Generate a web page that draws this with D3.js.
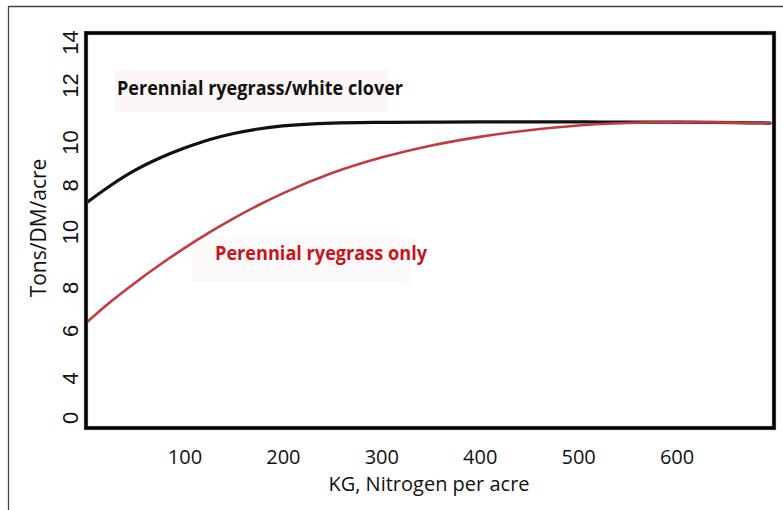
<!DOCTYPE html>
<html>
<head>
<meta charset="utf-8">
<script src="https://cdn.jsdelivr.net/npm/d3@7"></script>
<style>
    html, body { margin: 0; padding: 0; background: #fff; }
    svg { display: block; }
</style>
</head>
<body>
<div id="chart"></div>
<script>
// --- data
const nitrogen = [0, 25, 50, 75, 100, 125, 150, 175, 200, 250, 300, 350, 400, 450, 500, 550, 600, 695];
const cloverYield = [7.24, 7.98, 8.62, 9.13, 9.55, 9.9, 10.16, 10.35, 10.48, 10.6, 10.63, 10.64, 10.65, 10.65, 10.65, 10.64, 10.64, 10.6];
const ryegrassYield = [2.21, 3.1, 3.9, 4.65, 5.35, 6.0, 6.6, 7.15, 7.65, 8.5, 9.15, 9.65, 10.02, 10.3, 10.5, 10.6, 10.64, 10.6];

const xTicks = [100, 200, 300, 400, 500, 600];
// the printed y labels are not evenly spaced; each sits at its own value on the scale
const yTickLabels = ['14', '12', '10', '8', '10', '8', '6', '4', '0'];
const yTickAt = [14, 12.2, 9.8, 8, 6.05, 3.7, 1.9, -0.1, -1.75];

const seriesNames = ['Perennial ryegrass/white clover', 'Perennial ryegrass only'];

const width = 783;
const height = 510;
const margin = { top: 33, right: 8, bottom: 82, left: 86 };

const svg = d3.select('#chart')
    .append('svg')
    .attr('width', width)
    .attr('height', height);

// --- outer frame (only top/left edges fall inside the picture)
svg.append('path')
    .attr('d', `M8.5,${height} V6.5 H${width}`)
    .attr('fill', 'none')
    .attr('stroke', '#444')
    .attr('stroke-width', 1.3);

// --- scales
const x = d3.scaleLinear().domain([0, 700]).range([margin.left, width - margin.right]);
const y = d3.scaleLinear().domain([-2.2, 14.38]).range([height - margin.bottom, margin.top]);

// --- label backgrounds (faint pink boxes behind the captions)
svg.append('rect')
    .attr('x', 115).attr('y', 70).attr('width', 273).attr('height', 42)
    .attr('fill', '#fcf7f6');
svg.append('rect')
    .attr('x', 192).attr('y', 236).attr('width', 218).attr('height', 47)
    .attr('fill', '#fdf9f8');

// --- lines
const line = d3.line()
    .x(d => x(d[0]))
    .y(d => y(d[1]))
    .curve(d3.curveMonotoneX);

const curves = [
    { values: cloverYield, color: '#111', width: 3.2 },
    { values: ryegrassYield, color: '#c23b3e', width: 2.6 }
];

svg.append('g')
    .selectAll('path')
    .data(curves)
    .join('path')
    .attr('d', c => line(nitrogen.map((n, i) => [n, c.values[i]])))
    .attr('fill', 'none')
    .attr('stroke', c => c.color)
    .attr('stroke-width', c => c.width)
    .attr('stroke-linecap', 'round');

// --- plot box
svg.append('rect')
    .attr('x', margin.left)
    .attr('y', margin.top)
    .attr('width', width - margin.right - margin.left - 1)
    .attr('height', height - margin.bottom - margin.top)
    .attr('fill', 'none')
    .attr('stroke', '#666')
    .attr('stroke-width', 4.2);
svg.append('rect')
    .attr('x', margin.left)
    .attr('y', margin.top)
    .attr('width', width - margin.right - margin.left - 1)
    .attr('height', height - margin.bottom - margin.top)
    .attr('fill', 'none')
    .attr('stroke', '#000')
    .attr('stroke-width', 3);

// --- x axis
const gx = svg.append('g')
    .attr('transform', `translate(0,${height - margin.bottom})`)
    .call(d3.axisBottom(x).tickValues(xTicks).tickSize(0).tickPadding(0));
gx.select('.domain').remove();
gx.selectAll('text')
    .attr('y', 36)
    .attr('dy', 0)
    .attr('fill', '#111')
    .style('font-family', '"Open Sans", sans-serif')
    .style('font-size', '20px');

svg.append('text')
    .attr('x', 429)
    .attr('y', 491)
    .attr('text-anchor', 'middle')
    .attr('fill', '#111')
    .style('font-family', '"Open Sans", sans-serif')
    .style('font-size', '20px')
    .text('KG, Nitrogen per acre');

// --- y axis (rotated labels)
const gy = svg.append('g')
    .attr('transform', `translate(${margin.left},0)`)
    .call(d3.axisLeft(y).tickValues(yTickAt).tickFormat((d, i) => yTickLabels[i]).tickSize(0));
gy.select('.domain').remove();
gy.selectAll('text')
    .attr('transform', 'rotate(-90)')
    .attr('x', 0)
    .attr('y', -8)
    .attr('dy', 0)
    .attr('text-anchor', 'middle')
    .attr('fill', '#111')
    .style('font-family', '"Liberation Sans", Arial, sans-serif')
    .style('font-size', '22px');

svg.append('text')
    .attr('transform', 'translate(46,228) rotate(-90)')
    .attr('text-anchor', 'middle')
    .attr('fill', '#111')
    .style('font-family', '"Open Sans", sans-serif')
    .style('font-size', '21px')
    .text('Tons/DM/acre');

// --- series captions
const captions = [
    { text: seriesNames[0], x: 117, y: 95, w: 286, color: '#111' },
    { text: seriesNames[1], x: 215, y: 260, w: 212, color: '#c8151d' }
];
svg.append('g')
    .selectAll('text')
    .data(captions)
    .join('text')
    .attr('x', d => d.x)
    .attr('y', d => d.y)
    .attr('fill', d => d.color)
    .attr('textLength', d => d.w)
    .attr('lengthAdjust', 'spacingAndGlyphs')
    .style('font-family', '"Open Sans", sans-serif')
    .style('font-weight', 'bold')
    .style('font-size', '19px')
    .text(d => d.text);
</script>
</body>
</html>
